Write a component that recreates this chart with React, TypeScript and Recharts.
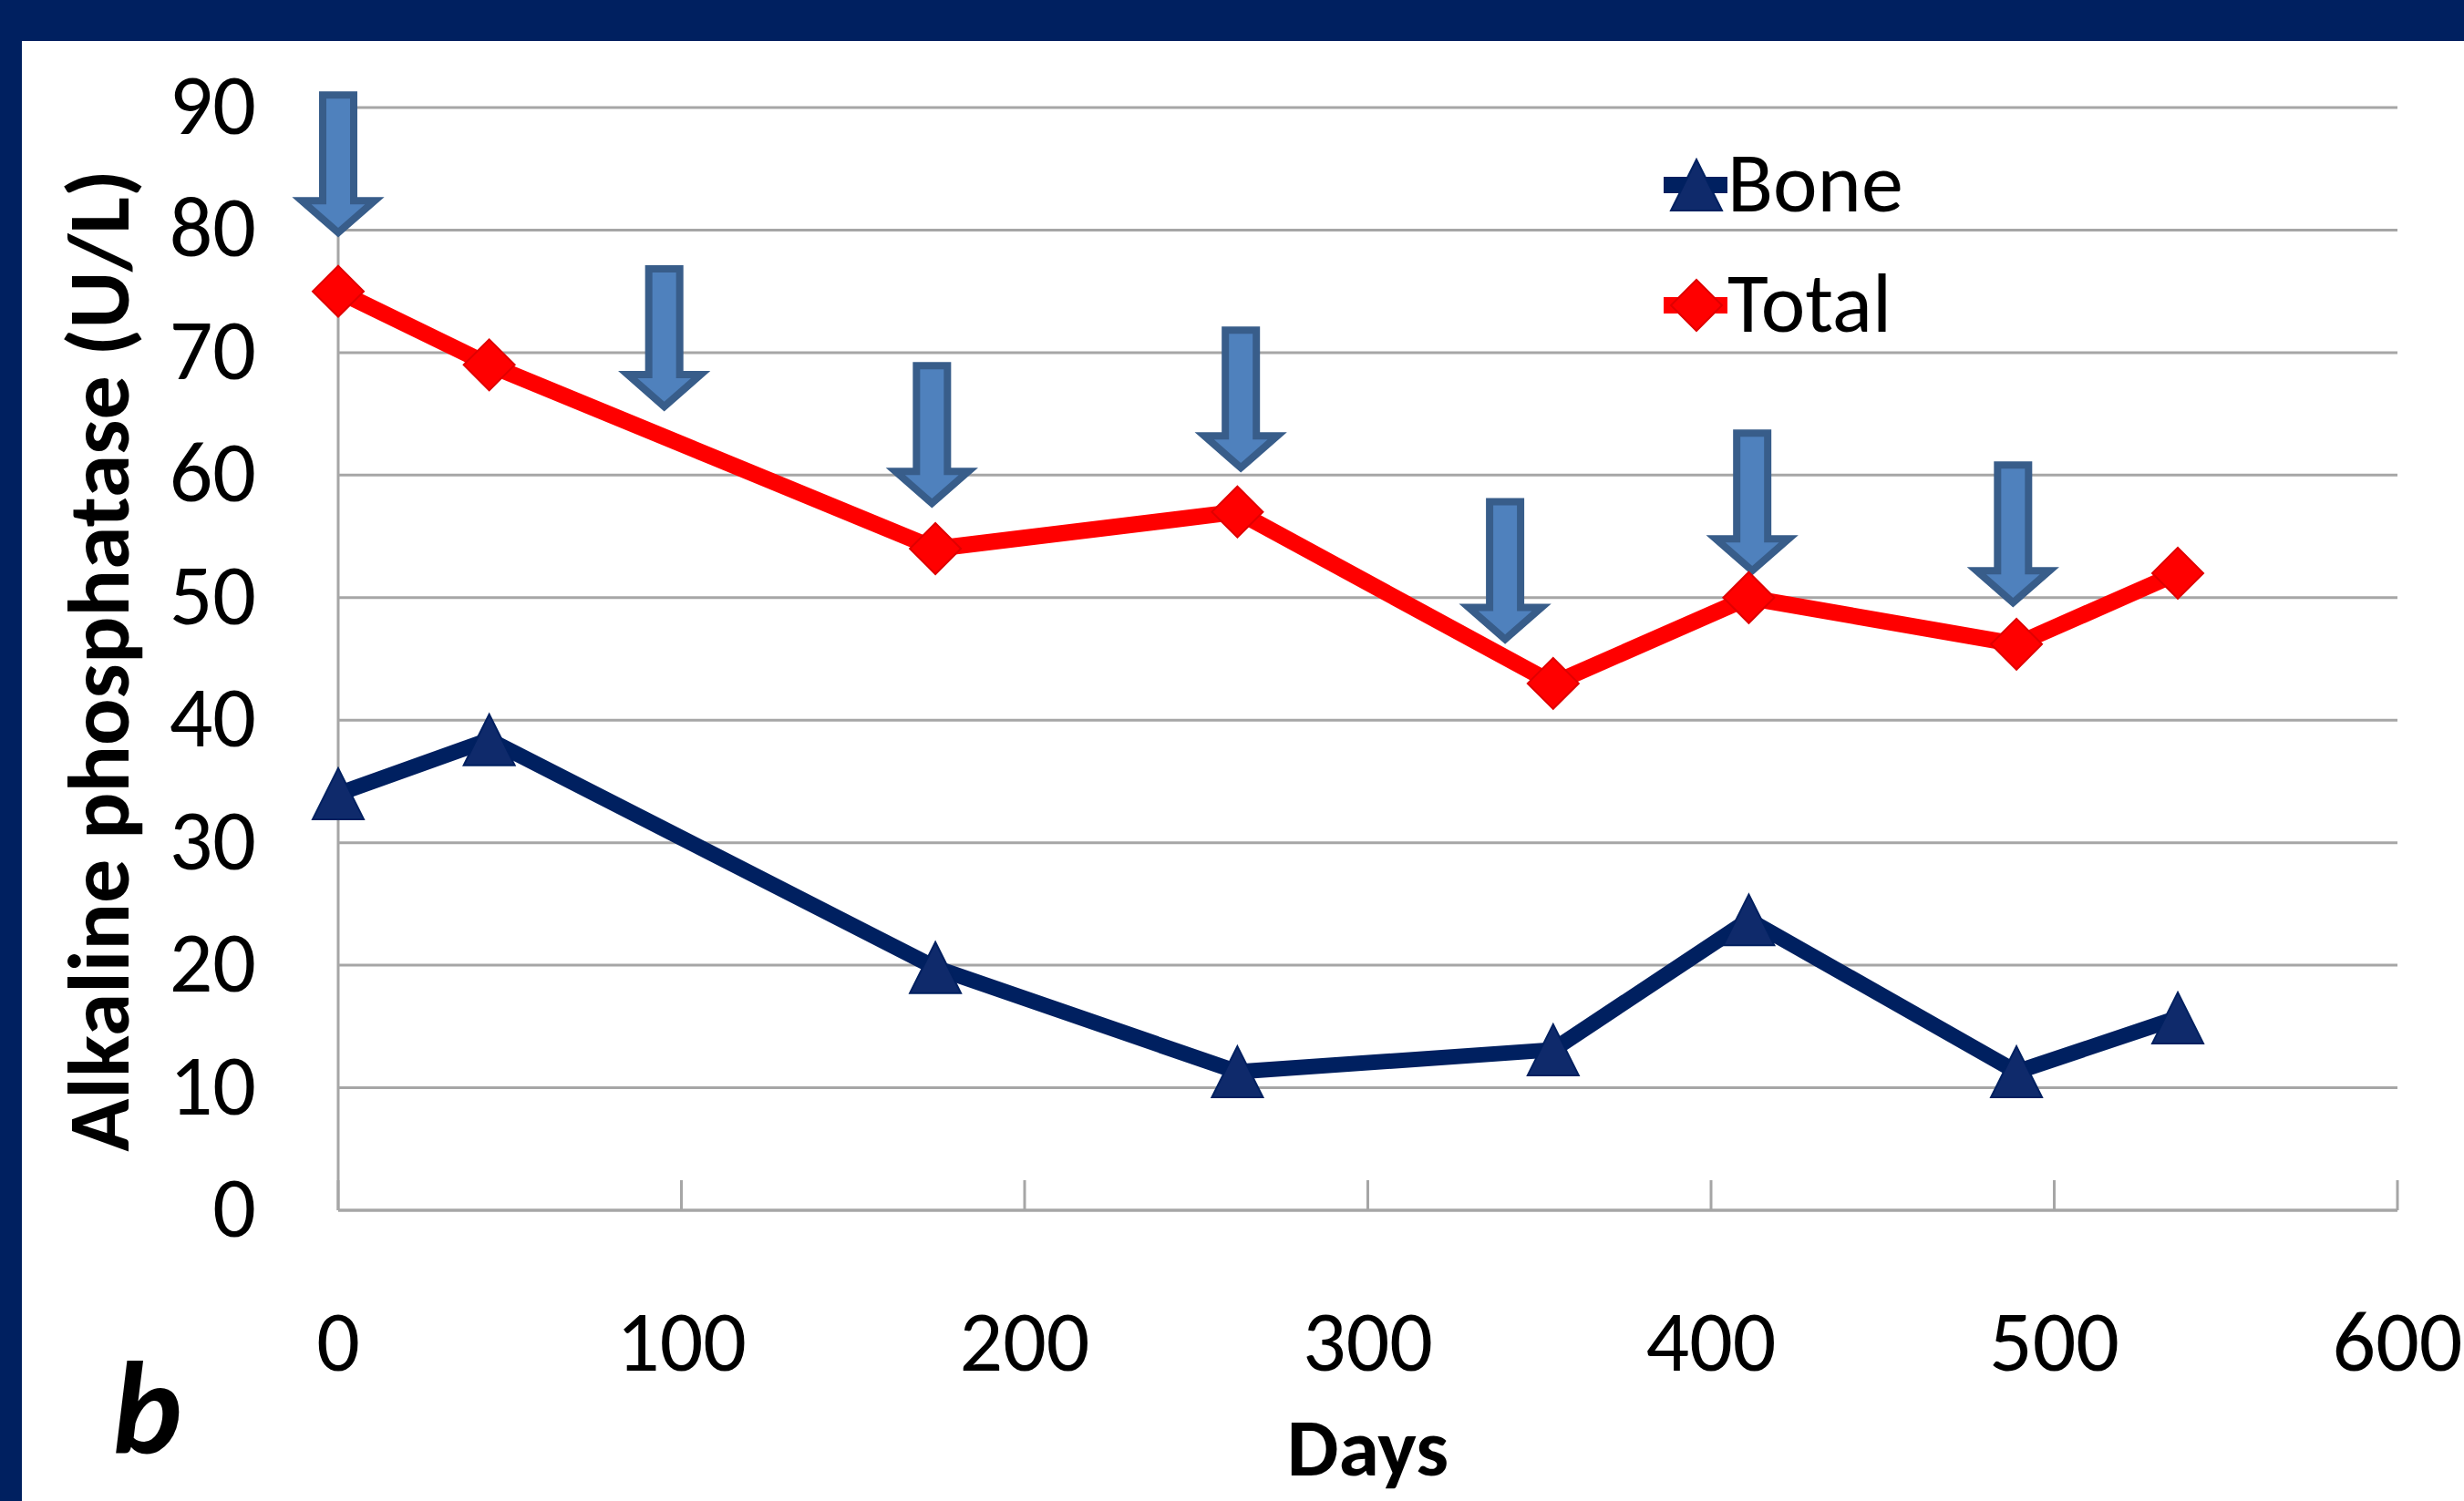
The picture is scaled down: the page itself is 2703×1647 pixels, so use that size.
import { ComposedChart, Line, Scatter, XAxis, YAxis, CartesianGrid, Legend } from 'recharts';

// Alkaline phosphatase over time, arrows mark the dosing days
const days = [0, 44, 174, 262, 354, 411, 489, 536];
const boneValues = [34, 38.4, 19.8, 11.3, 13.1, 23.7, 11.3, 15.7];
const totalValues = [75, 69, 54, 57, 43, 50, 46.2, 52];

const doseDays = [0, 95, 173, 263, 340, 412, 488];
const doseArrowTips = [79.5, 65.3, 57.4, 60.3, 46.3, 51.9, 49.3];

const xTicks = [0, 100, 200, 300, 400, 500, 600];
const yTicks = [0, 10, 20, 30, 40, 50, 60, 70, 80, 90];

const W = 2703;
const H = 1647;
const FONT = "Carlito, 'Liberation Sans Narrow', 'Open Sans', sans-serif";
const GRID = '#A6A6A6';
const NAVY = '#002060';
const RED = '#FF0000';

const chartData = days.map((d, i) => ({ day: d, bone: boneValues[i], total: totalValues[i] }));
const doseData = doseDays.map((d, i) => ({ day: d, tip: doseArrowTips[i] }));

const XTick = ({ x, y, payload }: any) => (
  <g>
    <line x1={x} x2={x} y1={y} y2={y - 33} stroke={GRID} strokeWidth={3} />
    <text x={x} y={y + 176} textAnchor="middle" fontSize={94} fontFamily={FONT} fill="#000">
      {payload.value}
    </text>
  </g>
);

const YTick = ({ x, y, payload }: any) => (
  <text x={x - 90} y={y + 29} textAnchor="end" fontSize={94} fontFamily={FONT} fill="#000">
    {payload.value}
  </text>
);

const renderDiamond = (p: any) => {
  if (p.cx == null || p.cy == null) return <g key={p.index} />;
  const r = 28;
  return (
    <path
      key={p.index}
      d={`M${p.cx},${p.cy - r} L${p.cx + r},${p.cy} L${p.cx},${p.cy + r} L${p.cx - r},${p.cy} Z`}
      fill={RED}
      stroke="#E00000"
      strokeWidth={2}
    />
  );
};

const renderTriangle = (p: any) => {
  if (p.cx == null || p.cy == null) return <g key={p.index} />;
  const h = 28;
  return (
    <path
      key={p.index}
      d={`M${p.cx},${p.cy - h} L${p.cx + h},${p.cy + h} L${p.cx - h},${p.cy + h} Z`}
      fill="#0F2A6B"
      stroke={NAVY}
      strokeWidth={2}
    />
  );
};

const DoseArrow = (p: any) => {
  const { cx, cy } = p;
  if (cx == null || cy == null) return <g />;
  const pts = [
    [-17, -155],
    [17, -155],
    [17, -39],
    [40, -39],
    [0, -4],
    [-40, -39],
    [-17, -39],
  ]
    .map(([dx, dy]) => `${cx + dx},${cy + dy}`)
    .join(' ');
  return <polygon points={pts} fill="#4F81BD" stroke="#385D8A" strokeWidth={8} strokeLinejoin="miter" />;
};

const YLabel = () => (
  <text
    x={141}
    y={725}
    transform="rotate(-90 141 725)"
    textAnchor="middle"
    fontSize={96}
    fontWeight="bold"
    fontFamily={FONT}
    fill="#000"
  >
    Alkaline phosphatase (U/L)
  </text>
);

const XLabel = ({ viewBox }: any) => (
  <text
    x={viewBox.x + viewBox.width / 2}
    y={viewBox.y + 291}
    textAnchor="middle"
    fontSize={90}
    fontWeight="bold"
    fontFamily={FONT}
    fill="#000"
  >
    Days
  </text>
);

const legendItems = [
  { name: 'Bone', marker: 'triangle', color: NAVY },
  { name: 'Total', marker: 'diamond', color: RED },
];

const renderLegend = () => (
  <div>
    {legendItems.map((item) => (
      <svg key={item.name} width={400} height={132} style={{ display: 'block' }}>
        <line x1={0} x2={70} y1={66} y2={66} stroke={item.color} strokeWidth={18} />
        {item.marker === 'triangle'
          ? renderTriangle({ cx: 36, cy: 66, index: 0 })
          : renderDiamond({ cx: 36, cy: 66, index: 0 })}
        <text x={70} y={95} fontSize={92} fontFamily={FONT} fill="#000">
          {item.name}
        </text>
      </svg>
    ))}
  </div>
);

export default function App() {
  return (
    <div style={{ position: 'absolute', left: 0, top: 0, width: W, height: H, background: NAVY, overflow: 'hidden' }}>
      <div style={{ position: 'absolute', left: 24, top: 45, right: 0, bottom: 0, background: '#fff' }} />
      <div style={{ position: 'absolute', left: 0, top: 0 }}>
        <ComposedChart width={W} height={H} data={chartData} margin={{ top: 118, right: 73, bottom: 19, left: 111 }}>
          <CartesianGrid vertical={false} stroke={GRID} strokeWidth={3} />
          <XAxis
            type="number"
            dataKey="day"
            domain={[0, 600]}
            ticks={xTicks}
            interval={0}
            height={300}
            axisLine={{ stroke: GRID, strokeWidth: 3 }}
            tickLine={false}
            tickSize={0}
            tickMargin={0}
            tick={<XTick />}
            label={<XLabel />}
          />
          <YAxis
            type="number"
            domain={[0, 90]}
            ticks={yTicks}
            interval={0}
            width={260}
            axisLine={{ stroke: GRID, strokeWidth: 3 }}
            tickLine={false}
            tickSize={0}
            tickMargin={0}
            tick={<YTick />}
            label={<YLabel />}
          />
          <Legend
            layout="vertical"
            align="center"
            verticalAlign="middle"
            content={renderLegend}
            wrapperStyle={{ position: 'absolute', left: 1825, top: 137, width: 400 }}
          />
          <Line
            dataKey="bone"
            name="Bone"
            stroke={NAVY}
            strokeWidth={17}
            strokeLinejoin="round"
            dot={renderTriangle}
            activeDot={false}
            isAnimationActive={false}
          />
          <Line
            dataKey="total"
            name="Total"
            stroke={RED}
            strokeWidth={18}
            strokeLinejoin="round"
            dot={renderDiamond}
            activeDot={false}
            isAnimationActive={false}
          />
          <Scatter
            data={doseData}
            dataKey="tip"
            legendType="none"
            shape={<DoseArrow />}
            isAnimationActive={false}
          />
        </ComposedChart>
      </div>
      <svg width={W} height={H} style={{ position: 'absolute', left: 0, top: 0, pointerEvents: 'none' }}>
        <text x={123} y={1594} fontSize={145} fontWeight="bold" fontStyle="italic" fontFamily={FONT} fill="#000">
          b
        </text>
      </svg>
    </div>
  );
}
